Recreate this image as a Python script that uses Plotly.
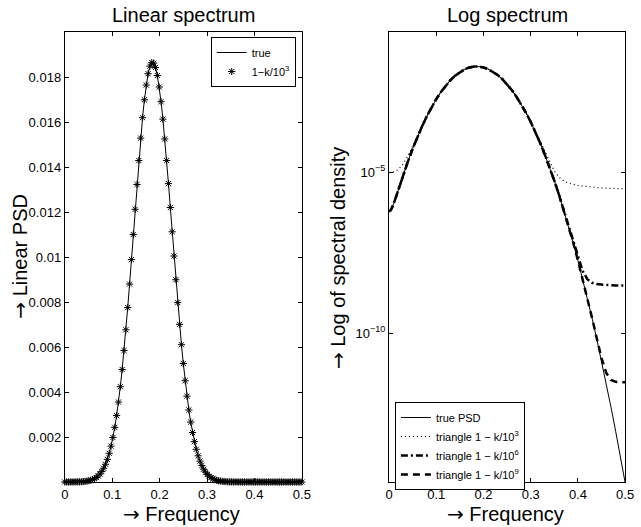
import numpy as np
import plotly.graph_objects as go

# ---------------- data ----------------
# Linear spectrum: 129 frequencies, step 1/256
freq_lin = np.linspace(0.0, 0.5, 129)
psd_lin = [
    6.0e-7, 6.7e-7, 8.7e-7, 1.3e-6, 1.9e-6, 2.8e-6, 4.2e-6, 6.2e-6, 9.1e-6, 1.34e-5,
    1.95e-5, 2.80e-5, 3.98e-5, 5.60e-5, 7.82e-5, 1.08e-4, 1.48e-4, 2.00e-4, 2.69e-4, 3.57e-4,
    4.69e-4, 6.11e-4, 7.89e-4, 1.007e-3, 1.274e-3, 1.594e-3, 1.977e-3, 2.427e-3, 2.952e-3, 3.553e-3,
    4.236e-3, 5.000e-3, 5.844e-3, 6.764e-3, 7.752e-3, 8.796e-3, 9.885e-3, 1.0999e-2, 1.2121e-2, 1.3223e-2,
    1.4288e-2, 1.5284e-2, 1.6192e-2, 1.6986e-2, 1.7643e-2, 1.8146e-2, 1.8481e-2, 1.8638e-2, 1.8615e-2, 1.8422e-2,
    1.8066e-2, 1.7555e-2, 1.6904e-2, 1.6128e-2, 1.5247e-2, 1.4286e-2, 1.3262e-2, 1.2200e-2, 1.1120e-2, 1.0044e-2,
    8.990e-3, 7.973e-3, 7.008e-3, 6.102e-3, 5.265e-3, 4.502e-3, 3.814e-3, 3.202e-3, 2.665e-3, 2.198e-3,
    1.795e-3, 1.453e-3, 1.165e-3, 9.26e-4, 7.29e-4, 5.69e-4, 4.40e-4, 3.37e-4, 2.56e-4, 1.93e-4,
    1.44e-4, 1.06e-4, 7.77e-5, 5.64e-5, 4.05e-5, 2.89e-5, 2.04e-5, 1.42e-5, 9.9e-6, 6.8e-6,
    4.6e-6, 3.1e-6, 2.1e-6, 1.4e-6, 9.0e-7, 5.9e-7, 3.8e-7, 2.4e-7, 1.5e-7, 9.0e-8,
    6.0e-8, 3.0e-8, 2.0e-8, 1.0e-8, 0.0, 0.0, 0.0, 0.0, 0.0, 0.0,
    0.0, 0.0, 0.0, 0.0, 0.0, 0.0, 0.0, 0.0, 0.0, 0.0,
    0.0, 0.0, 0.0, 0.0, 0.0, 0.0, 0.0, 0.0, 0.0,
]

# Log spectrum: frequencies and log10 of spectral density
freq_log = [0.0, 0.0025, 0.005, 0.0075, 0.01, 0.015, 0.02, 0.03, 0.04, 0.05,
            0.06, 0.07, 0.08, 0.09, 0.10, 0.11, 0.12, 0.13, 0.14, 0.15,
            0.16, 0.17, 0.18, 0.19, 0.20, 0.21, 0.22, 0.23, 0.24, 0.25,
            0.26, 0.27, 0.28, 0.29, 0.30, 0.31, 0.32, 0.33, 0.34, 0.35,
            0.36, 0.37, 0.38, 0.39, 0.40, 0.41, 0.42, 0.43, 0.44, 0.45,
            0.46, 0.47, 0.48, 0.49, 0.50]
log_true = [-6.220, -6.202, -6.150, -6.073, -5.979, -5.763, -5.537, -5.093, -4.673, -4.281,
            -3.917, -3.581, -3.273, -2.993, -2.741, -2.517, -2.321, -2.153, -2.013, -1.901,
            -1.817, -1.761, -1.733, -1.733, -1.759, -1.811, -1.889, -1.993, -2.123, -2.279,
            -2.461, -2.669, -2.903, -3.163, -3.449, -3.761, -4.099, -4.463, -4.853, -5.269,
            -5.711, -6.179, -6.673, -7.193, -7.739, -8.311, -8.909, -9.533, -10.183, -10.859,
            -11.561, -12.289, -13.043, -13.823, -14.629]
log_tri3 = [-5.017, -5.016, -5.011, -5.004, -4.995, -4.963, -4.913, -4.751, -4.502, -4.198,
            -3.875, -3.564, -3.263, -2.987, -2.737, -2.517, -2.321, -2.153, -2.013, -1.901,
            -1.817, -1.761, -1.733, -1.733, -1.759, -1.811, -1.889, -1.993, -2.123, -2.279,
            -2.461, -2.669, -2.898, -3.156, -3.437, -3.740, -4.061, -4.387, -4.701, -4.968,
            -5.162, -5.280, -5.347, -5.387, -5.415, -5.436, -5.455, -5.471, -5.484, -5.495,
            -5.504, -5.511, -5.516, -5.519, -5.520]
log_tri6 = [-6.214, -6.197, -6.146, -6.070, -5.977, -5.763, -5.537, -5.093, -4.673, -4.281,
            -3.917, -3.581, -3.273, -2.993, -2.741, -2.517, -2.321, -2.153, -2.013, -1.901,
            -1.817, -1.761, -1.733, -1.733, -1.759, -1.811, -1.889, -1.993, -2.123, -2.279,
            -2.461, -2.669, -2.903, -3.163, -3.449, -3.761, -4.099, -4.463, -4.853, -5.269,
            -5.709, -6.176, -6.664, -7.166, -7.656, -8.068, -8.324, -8.435, -8.475, -8.493,
            -8.504, -8.511, -8.516, -8.519, -8.520]
log_tri9 = [-6.220, -6.202, -6.150, -6.073, -5.979, -5.763, -5.537, -5.093, -4.673, -4.281,
            -3.917, -3.581, -3.273, -2.993, -2.741, -2.517, -2.321, -2.153, -2.013, -1.901,
            -1.817, -1.761, -1.733, -1.733, -1.759, -1.811, -1.889, -1.993, -2.123, -2.279,
            -2.461, -2.669, -2.903, -3.163, -3.449, -3.761, -4.099, -4.463, -4.853, -5.269,
            -5.711, -6.179, -6.673, -7.193, -7.739, -8.311, -8.908, -9.528, -10.161, -10.768,
            -11.231, -11.444, -11.504, -11.517, -11.520]

x_ticks = [0, 0.1, 0.2, 0.3, 0.4, 0.5]
x_ticktext = ["0", "0.1", "0.2", "0.3", "0.4", "0.5"]
lin_yticks = [0.002, 0.004, 0.006, 0.008, 0.010, 0.012, 0.014, 0.016, 0.018]
lin_yticktext = ["0.002", "0.004", "0.006", "0.008", "0.01", "0.012", "0.014", "0.016", "0.018"]
log_yticks = [1e-10, 1e-5]
log_yticktext = ["10<sup>−10</sup>", "10<sup>−5</sup>"]

# ---------------- figure ----------------
W, H = 641, 527
FONT = "Liberation Sans, Arial, Helvetica, sans-serif"
ARROW = '<span style="font-family:DejaVu Sans">→</span> '

fig = go.Figure()

fig.add_trace(go.Scatter(x=freq_lin, y=psd_lin, mode="lines", name="true",
                         line=dict(color="black", width=1),
                         xaxis="x", yaxis="y", legend="legend"))
fig.add_trace(go.Scatter(x=freq_lin, y=psd_lin, mode="markers", name="1−k/10<sup>3</sup>",
                         marker=dict(symbol="asterisk-open", size=6, color="black",
                                     line=dict(color="black", width=1)),
                         cliponaxis=False, xaxis="x", yaxis="y", legend="legend"))

def pw(v):
    return [10.0 ** t for t in v]

fig.add_trace(go.Scatter(x=freq_log, y=pw(log_true), mode="lines", name="true PSD",
                         line=dict(color="black", width=1),
                         xaxis="x2", yaxis="y2", legend="legend2"))
fig.add_trace(go.Scatter(x=freq_log, y=pw(log_tri3), mode="lines", name="triangle 1 − k/10<sup>3</sup>",
                         line=dict(color="black", width=1.2, dash="1px,3px"),
                         xaxis="x2", yaxis="y2", legend="legend2"))
fig.add_trace(go.Scatter(x=freq_log, y=pw(log_tri6), mode="lines", name="triangle 1 − k/10<sup>6</sup>",
                         line=dict(color="black", width=2.5, dash="7px,3px,2px,3px"),
                         xaxis="x2", yaxis="y2", legend="legend2"))
fig.add_trace(go.Scatter(x=freq_log, y=pw(log_tri9), mode="lines", name="triangle 1 − k/10<sup>9</sup>",
                         line=dict(color="black", width=2.5, dash="7px,5px"),
                         xaxis="x2", yaxis="y2", legend="legend2"))

axis_common = dict(showline=True, linecolor="black", linewidth=1, mirror="ticks",
                   ticks="inside", ticklen=4, tickwidth=1, tickcolor="black",
                   showgrid=False, zeroline=False,
                   tickfont=dict(family=FONT, size=13, color="black"))

ydom = [45 / H, 495 / H]
fig.update_layout(
    width=W, height=H,
    margin=dict(l=0, r=0, t=0, b=0),
    paper_bgcolor="white", plot_bgcolor="white",
    font=dict(family=FONT, color="black"),
    xaxis=dict(domain=[62 / W, 304 / W], range=[0, 0.5], anchor="y",
               tickvals=x_ticks, ticktext=x_ticktext, **axis_common),
    yaxis=dict(domain=ydom, range=[0, 0.02], anchor="x",
               tickvals=lin_yticks, ticktext=lin_yticktext, **axis_common),
    xaxis2=dict(domain=[393 / W, 634 / W], range=[0, 0.5], anchor="y2",
                tickvals=x_ticks, ticktext=x_ticktext, **axis_common),
    yaxis2=dict(domain=ydom, type="log", range=[-14.61, -0.66], anchor="x2",
                tickvals=log_yticks, ticktext=log_yticktext, **axis_common),
    legend=dict(x=211 / W, y=1 - 37 / H, xanchor="left", yanchor="top",
                bgcolor="white", bordercolor="black", borderwidth=1,
                font=dict(family=FONT, size=11, color="black"),
                itemwidth=30, tracegroupgap=0),
    legend2=dict(x=399 / W, y=1 - 402 / H, xanchor="left", yanchor="top",
                 bgcolor="white", bordercolor="black", borderwidth=1,
                 font=dict(family=FONT, size=11, color="black"),
                 itemwidth=30, tracegroupgap=0),
    showlegend=True,
)

ann = dict(xref="paper", yref="paper", showarrow=False,
           font=dict(family=FONT, size=20, color="black"))
fig.add_annotation(text="Linear spectrum", x=183 / W, y=1 - 15 / H,
                   xanchor="center", yanchor="middle", **ann)
fig.add_annotation(text="Log spectrum", x=513.5 / W, y=1 - 15 / H,
                   xanchor="center", yanchor="middle", **ann)
fig.add_annotation(text=ARROW + "Frequency", x=181 / W, y=1 - 514 / H,
                   xanchor="center", yanchor="middle", **ann)
fig.add_annotation(text=ARROW + "Frequency", x=512 / W, y=1 - 514 / H,
                   xanchor="center", yanchor="middle", **ann)
fig.add_annotation(text=ARROW + "Linear PSD", x=16 / W, y=1 - 256 / H, textangle=-90,
                   xanchor="center", yanchor="middle", **ann)
fig.add_annotation(text=ARROW + "Log of spectral density", x=341 / W, y=1 - 258 / H, textangle=-90,
                   xanchor="center", yanchor="middle", **ann)

fig.write_html("out.html")
